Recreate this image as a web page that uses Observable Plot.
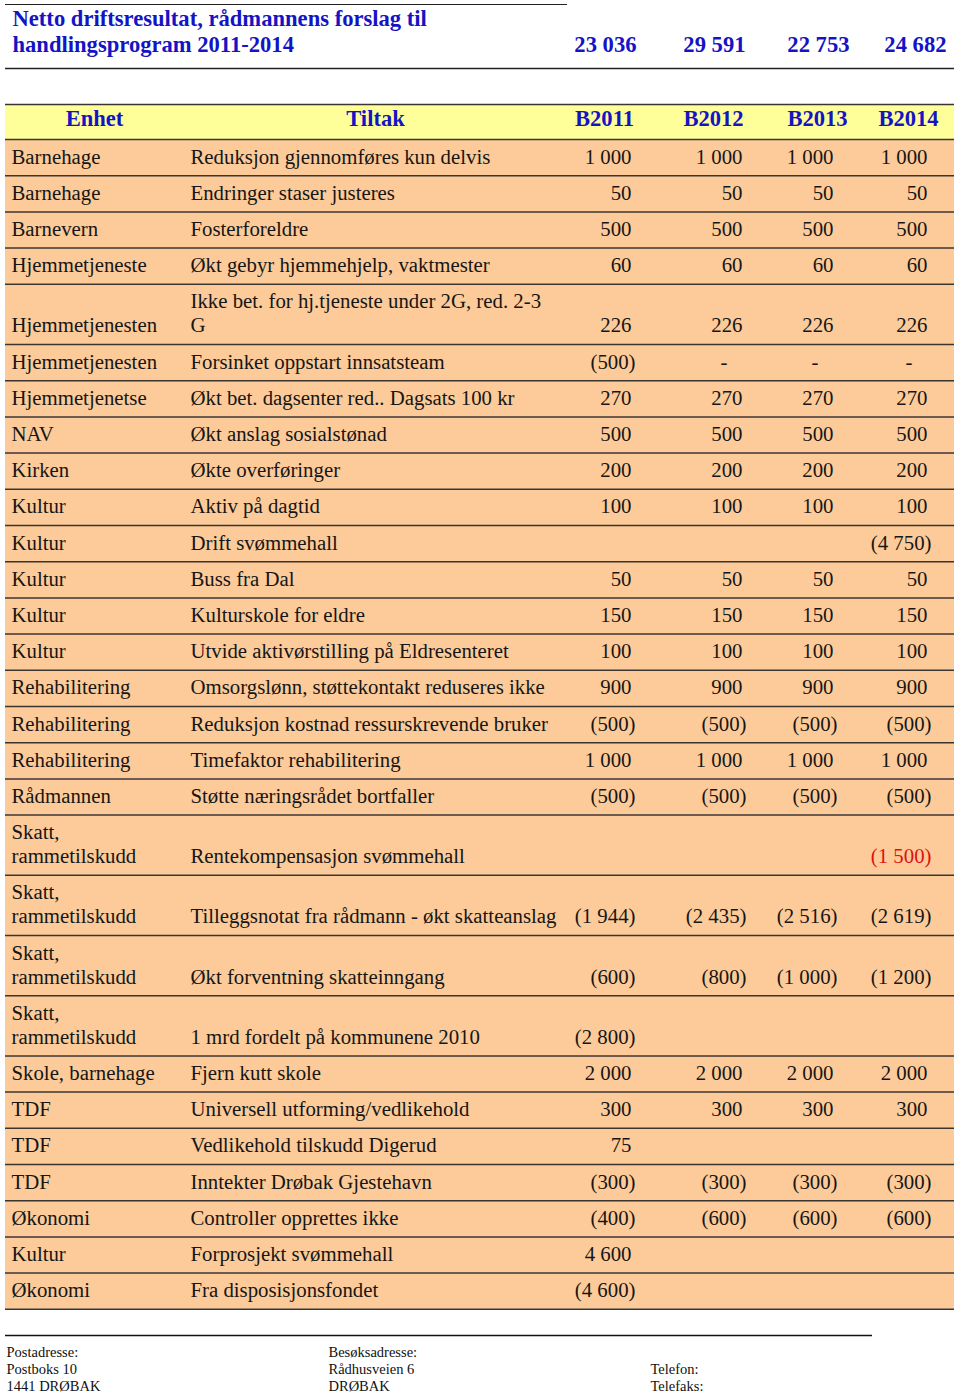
<!DOCTYPE html>
<html><head><meta charset="utf-8">
<script src="https://cdn.jsdelivr.net/npm/d3@7"></script>
<script src="https://cdn.jsdelivr.net/npm/@observablehq/plot@0.6"></script>
<style>body{margin:0;background:#fff}</style>
</head><body><div id="chart"></div>
<script>
// ---------- data ----------
const titleLines = ["Netto driftsresultat, rådmannens forslag til", "handlingsprogram 2011-2014"];
const years = ["B2011", "B2012", "B2013", "B2014"];
const totals = [23036, 29591, 22753, 24682];
const headers = ["Enhet", "Tiltak"];
const units = [
  "Barnehage", "Barnehage", "Barnevern", "Hjemmetjeneste", "Hjemmetjenesten",
  "Hjemmetjenesten", "Hjemmetjenetse", "NAV", "Kirken", "Kultur",
  "Kultur", "Kultur", "Kultur", "Kultur", "Rehabilitering",
  "Rehabilitering", "Rehabilitering", "Rådmannen", "Skatt,\nrammetilskudd", "Skatt,\nrammetilskudd",
  "Skatt,\nrammetilskudd", "Skatt,\nrammetilskudd", "Skole, barnehage", "TDF", "TDF",
  "TDF", "Økonomi", "Kultur", "Økonomi"
];
const measures = [
  "Reduksjon gjennomføres kun delvis", "Endringer staser justeres", "Fosterforeldre",
  "Økt gebyr hjemmehjelp, vaktmester", "Ikke bet. for hj.tjeneste under 2G, red. 2-3\nG",
  "Forsinket oppstart innsatsteam", "Økt bet. dagsenter red.. Dagsats 100 kr", "Økt anslag sosialstønad",
  "Økte overføringer", "Aktiv på dagtid", "Drift svømmehall", "Buss fra Dal", "Kulturskole for eldre",
  "Utvide aktivørstilling på Eldresenteret", "Omsorgslønn, støttekontakt reduseres ikke",
  "Reduksjon kostnad ressurskrevende bruker", "Timefaktor rehabilitering", "Støtte næringsrådet bortfaller",
  "Rentekompensasjon svømmehall", "Tilleggsnotat fra rådmann - økt skatteanslag",
  "Økt forventning skatteinngang", "1 mrd fordelt på kommunene 2010", "Fjern kutt skole",
  "Universell utforming/vedlikehold", "Vedlikehold tilskudd Digerud", "Inntekter Drøbak Gjestehavn",
  "Controller opprettes ikke", "Forprosjekt svømmehall", "Fra disposisjonsfondet"
];
const b2011 = [1000, 50, 500, 60, 226, -500, 270, 500, 200, 100, null, 50, 150, 100, 900, -500, 1000, -500, null, -1944, -600, -2800, 2000, 300, 75, -300, -400, 4600, -4600];
const b2012 = [1000, 50, 500, 60, 226, 0, 270, 500, 200, 100, null, 50, 150, 100, 900, -500, 1000, -500, null, -2435, -800, null, 2000, 300, null, -300, -600, null, null];
const b2013 = [1000, 50, 500, 60, 226, 0, 270, 500, 200, 100, null, 50, 150, 100, 900, -500, 1000, -500, null, -2516, -1000, null, 2000, 300, null, -300, -600, null, null];
const b2014 = [1000, 50, 500, 60, 226, 0, 270, 500, 200, 100, -4750, 50, 150, 100, 900, -500, 1000, -500, -1500, -2619, -1200, null, 2000, 300, null, -300, -600, null, null];
const highlighted = [{row: 18, year: "B2014"}];
const footerLeft = ["Postadresse:", "Postboks 10", "1441 DRØBAK"];
const footerMid = ["Besøksadresse:", "Rådhusveien 6", "DRØBAK"];
const footerRight = ["", "Telefon:", "Telefaks:"];

// ---------- layout ----------
const L = {
  left: 5, right: 954, titleRuleTop: 4, titleRuleEnd: 567, titleY: [18, 44], titleX: 12,
  ruleUnderTitle: 68, headTop: 104, bodyTop: 139, headTextY: 118.5, rowH: 36.2, lineH: 24, textOff: 17.5,
  unitX: 11, measureX: 190, headCenters: [94, 375], yearCenters: [604, 713, 817, 908],
  numRight: [631, 742, 833, 927], totalRight: [636, 745, 849, 946],
  footRule: 1335, footRuleEnd: 872, footX: [6, 328, 650], footY: [1352, 1369, 1386]
};
const BLUE = "#1414c4", PEACH = "#fccb99", YELLOW = "#ffff99", INK = "#161616", LINE = "#3b3530";
const values = [b2011, b2012, b2013, b2014];

const nLines = units.map((u, i) => Math.max(u.split("\n").length, measures[i].split("\n").length));
let cursor = L.bodyTop;
const rows = units.map((u, i) => {
  const h = L.rowH + L.lineH * (nLines[i] - 1);
  const r = {i, top: cursor, bottom: cursor + h};
  cursor += h;
  return r;
});
const lastLineY = r => r.bottom - (L.rowH - L.textOff);

function lineEntries(texts, x) {
  const out = [];
  texts.forEach((t, i) => {
    const parts = t.split("\n");
    parts.forEach((p, j) => out.push({x, y: lastLineY(rows[i]) - L.lineH * (parts.length - 1 - j), text: p}));
  });
  return out;
}
const textCells = [...lineEntries(units, L.unitX), ...lineEntries(measures, L.measureX)];

const fmt = d3.formatLocale({decimal: ",", thousands: " ", grouping: [3], currency: ["", ""]}).format(",d");
const numCells = [];
values.forEach((arr, c) => arr.forEach((v, i) => {
  if (v == null) return;
  const hl = highlighted.some(h => h.row === i && h.year === years[c]);
  numCells.push({x: L.numRight[c], y: lastLineY(rows[i]), v,
    text: v === 0 ? "-" : v < 0 ? "(" + fmt(-v) + ")" : fmt(v), color: hl ? "#e01010" : INK});
}));

const edges = [L.headTop, L.bodyTop, ...rows.map(r => r.bottom)];
const FS = 20.8, HFS = 22.6;

const chart = Plot.plot({
  width: 960, height: 1395, margin: 0,
  x: {type: "identity", axis: null}, y: {type: "identity", axis: null},
  style: {fontFamily: "'Liberation Serif', 'Times New Roman', serif", background: "#fff", color: INK},
  marks: [
    // title block
    Plot.ruleY([L.titleRuleTop], {x1: L.left, x2: L.titleRuleEnd, stroke: "#222", strokeWidth: 1}),
    Plot.text(titleLines, {x: L.titleX, y: (d, i) => L.titleY[i], text: d => d, textAnchor: "start",
      lineAnchor: "middle", fontSize: HFS, fontWeight: "bold", fill: BLUE}),
    Plot.text(totals, {x: (d, i) => L.totalRight[i], y: L.titleY[1], text: d => fmt(d), textAnchor: "end",
      lineAnchor: "middle", fontSize: HFS, fontWeight: "bold", fill: BLUE}),
    Plot.ruleY([L.ruleUnderTitle], {x1: L.left, x2: L.right, stroke: "#222", strokeWidth: 1.5}),
    // backgrounds
    Plot.rect([0], {x1: L.left, x2: L.right, y1: L.headTop, y2: L.bodyTop, fill: YELLOW}),
    Plot.rect(rows, {x1: L.left, x2: L.right, y1: "top", y2: "bottom", fill: PEACH}),
    Plot.ruleY(edges, {x1: L.left, x2: L.right, stroke: LINE, strokeWidth: 1.5}),
    // header
    Plot.text(headers, {x: (d, i) => L.headCenters[i], y: L.headTextY, text: d => d,
      textAnchor: "middle", lineAnchor: "middle", fontSize: HFS, fontWeight: "bold", fill: BLUE}),
    Plot.text(years, {x: (d, i) => L.yearCenters[i], y: L.headTextY, text: d => d,
      textAnchor: "middle", lineAnchor: "middle", fontSize: HFS, fontWeight: "bold", fill: BLUE}),
    // body text
    Plot.text(textCells, {x: "x", y: "y", text: "text", textAnchor: "start", lineAnchor: "middle", fontSize: FS, fill: INK}),
    Plot.text(numCells.filter(d => d.v > 0), {x: "x", y: "y", text: "text", textAnchor: "end", lineAnchor: "middle", fontSize: FS, fill: "color"}),
    Plot.text(numCells.filter(d => d.v < 0), {x: "x", y: "y", text: "text", dx: 4, textAnchor: "end", lineAnchor: "middle", fontSize: FS, fill: "color"}),
    Plot.text(numCells.filter(d => d.v === 0), {x: "x", y: "y", text: "text", dx: -15, textAnchor: "end", lineAnchor: "middle", fontSize: FS, fill: "color"}),
    // footer
    Plot.ruleY([L.footRule], {x1: L.left, x2: L.footRuleEnd, stroke: "#111", strokeWidth: 1.5}),
    ...[footerLeft, footerMid, footerRight].map((col, c) =>
      Plot.text(col, {x: L.footX[c], y: (d, i) => L.footY[i], text: d => d, textAnchor: "start",
        lineAnchor: "middle", fontSize: 14.5, fill: "#111"}))
  ]
});
document.getElementById("chart").append(chart);
</script>
</body></html>
